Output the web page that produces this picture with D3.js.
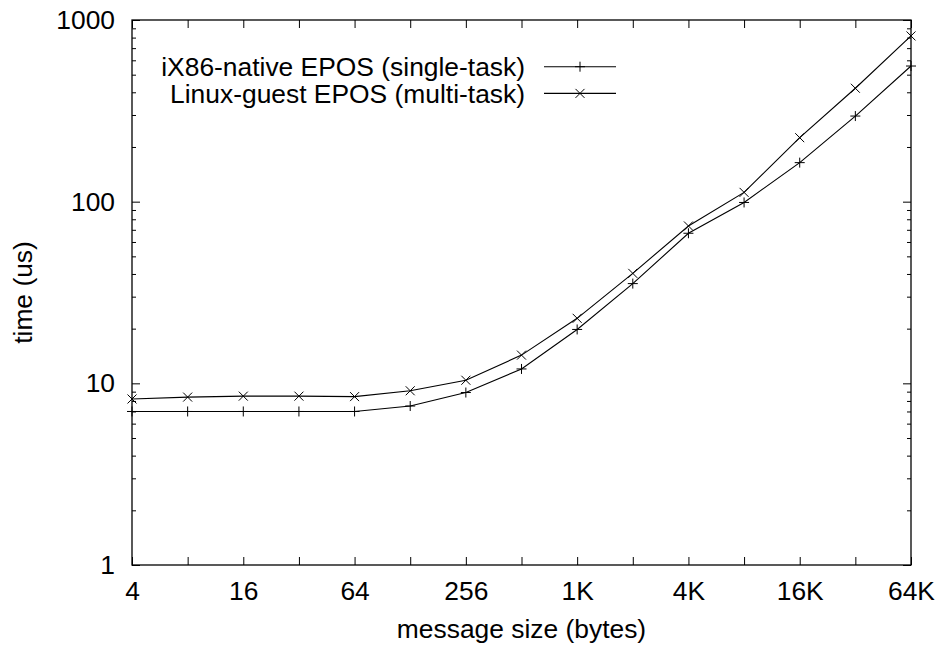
<!DOCTYPE html>
<html>
<head>
<meta charset="utf-8">
<script src="https://cdn.jsdelivr.net/npm/d3@7"></script>
<style>
  body { margin: 0; background: #fff; }
  text { font-family: "Liberation Sans", Arial, sans-serif; fill: #000; }
</style>
</head>
<body>
<svg id="chart" width="940" height="647"></svg>
<script>
// message sizes (bytes) and latencies (us)
var sizes = [4, 8, 16, 32, 64, 128, 256, 512, 1024, 2048, 4096, 8192, 16384, 32768, 65536];
var nativeTimes = [7.0, 7.0, 7.0, 7.0, 7.0, 7.5, 8.9, 12.0, 19.8, 35.4, 67, 99, 164, 296, 558];
var guestTimes = [8.2, 8.4, 8.5, 8.5, 8.45, 9.1, 10.4, 14.3, 22.8, 40.3, 73.5, 112.5, 225, 421, 817];

// labelled x ticks
var xLabelValues = [4, 16, 64, 256, 1024, 4096, 16384, 65536];
var xLabels = ["4", "16", "64", "256", "1K", "4K", "16K", "64K"];

// y ticks
var yMajor = [1, 10, 100, 1000];
var yLabels = ["1", "10", "100", "1000"];

var seriesNames = ["iX86-native EPOS (single-task)", "Linux-guest EPOS (multi-task)"];

var svg = d3.select("#chart");
// plot box (note: "top" is a reserved window global, so use other names)
var plotLeft = 132, plotRight = 911, plotTop = 20, plotBottom = 565;
var fontSize = 26.4;

var x = d3.scaleLog().base(2)
    .domain([4, 65536])
    .range([plotLeft, plotRight]);

var y = d3.scaleLog()
    .domain([1, 1000])
    .range([plotBottom, plotTop]);

// minor ticks at 2..9 of every decade
var yMinor = [];
yMajor.slice(0, -1).forEach(function (d) {
    for (var i = 2; i < 10; i++) yMinor.push(d * i);
});

// bottom axis, ticks pointing inward
svg.append("g")
    .attr("transform", "translate(0," + plotBottom + ")")
    .call(d3.axisBottom(x)
        .tickValues(sizes)
        .tickSizeInner(-8)
        .tickSizeOuter(0)
        .tickPadding(16.5)
        .tickFormat(function (d) {
            var i = xLabelValues.indexOf(d);
            return i < 0 ? "" : xLabels[i];
        }))
    .attr("font-size", fontSize)
    .attr("font-family", null)
    .call(function (g) { g.select(".domain").remove(); });

// top axis
svg.append("g")
    .attr("transform", "translate(0," + plotTop + ")")
    .call(d3.axisTop(x).tickValues(sizes).tickSizeInner(-8).tickSizeOuter(0).tickFormat(""))
    .call(function (g) { g.select(".domain").remove(); });

// left axis
svg.append("g")
    .attr("transform", "translate(" + plotLeft + ",0)")
    .call(d3.axisLeft(y)
        .tickValues(yMajor)
        .tickSizeInner(-8)
        .tickSizeOuter(0)
        .tickPadding(17)
        .tickFormat(function (d, i) { return yLabels[i]; }))
    .attr("font-size", fontSize)
    .attr("font-family", null)
    .call(function (g) { g.select(".domain").remove(); });

svg.append("g")
    .attr("transform", "translate(" + plotLeft + ",0)")
    .call(d3.axisLeft(y).tickValues(yMinor).tickSizeInner(-4).tickSizeOuter(0).tickFormat(""))
    .call(function (g) { g.select(".domain").remove(); });

// right axis (mirror ticks)
svg.append("g")
    .attr("transform", "translate(" + plotRight + ",0)")
    .call(d3.axisRight(y).tickValues(yMajor).tickSizeInner(-8).tickSizeOuter(0).tickFormat(""))
    .call(function (g) { g.select(".domain").remove(); });

svg.append("g")
    .attr("transform", "translate(" + plotRight + ",0)")
    .call(d3.axisRight(y).tickValues(yMinor).tickSizeInner(-4).tickSizeOuter(0).tickFormat(""))
    .call(function (g) { g.select(".domain").remove(); });

svg.selectAll(".tick line").attr("stroke", "#000");

// plot border
svg.append("rect")
    .attr("x", plotLeft)
    .attr("y", plotTop)
    .attr("width", plotRight - plotLeft)
    .attr("height", plotBottom - plotTop)
    .attr("fill", "none")
    .attr("stroke", "#000")
    .attr("stroke-width", 1.3);

// axis titles
svg.append("text")
    .attr("x", (plotLeft + plotRight) / 2)
    .attr("y", 638)
    .attr("text-anchor", "middle")
    .attr("font-size", fontSize)
    .text("message size (bytes)");

svg.append("text")
    .attr("transform", "translate(32," + ((plotTop + plotBottom) / 2) + ")rotate(-90)")
    .attr("text-anchor", "middle")
    .attr("font-size", fontSize)
    .text("time (us)");

// point markers
function plus(g, px, py) {
    g.append("path")
        .attr("d", "M" + (px - 5) + "," + py + "H" + (px + 5) + "M" + px + "," + (py - 5) + "V" + (py + 5))
        .attr("stroke", "#000").attr("stroke-width", 1).attr("fill", "none");
}
function cross(g, px, py) {
    var s = 4.5;
    g.append("path")
        .attr("d", "M" + (px - s) + "," + (py - s) + "L" + (px + s) + "," + (py + s) +
                   "M" + (px - s) + "," + (py + s) + "L" + (px + s) + "," + (py - s))
        .attr("stroke", "#000").attr("stroke-width", 1).attr("fill", "none");
}

var line = d3.line()
    .x(function (d) { return x(d[0]); })
    .y(function (d) { return y(d[1]); });

var series = [
    { values: nativeTimes, marker: plus },
    { values: guestTimes, marker: cross }
];

var plot = svg.append("g");

series.forEach(function (s) {
    var pts = sizes.map(function (d, i) { return [d, s.values[i]]; });
    plot.append("path")
        .datum(pts)
        .attr("d", line)
        .attr("fill", "none")
        .attr("stroke", "#000")
        .attr("stroke-width", 1.1);
    pts.forEach(function (p) { s.marker(plot, x(p[0]), y(p[1])); });
});

// legend
var legend = svg.append("g");
series.forEach(function (s, i) {
    var ly = 66.7 + i * 26.7;
    legend.append("text")
        .attr("x", 525)
        .attr("y", ly)
        .attr("dy", "0.35em")
        .attr("text-anchor", "end")
        .attr("font-size", fontSize)
        .text(seriesNames[i]);
    legend.append("line")
        .attr("x1", 544).attr("x2", 616)
        .attr("y1", ly).attr("y2", ly)
        .attr("stroke", "#000").attr("stroke-width", 1.1);
    s.marker(legend, 580, ly);
});
</script>
</body>
</html>
